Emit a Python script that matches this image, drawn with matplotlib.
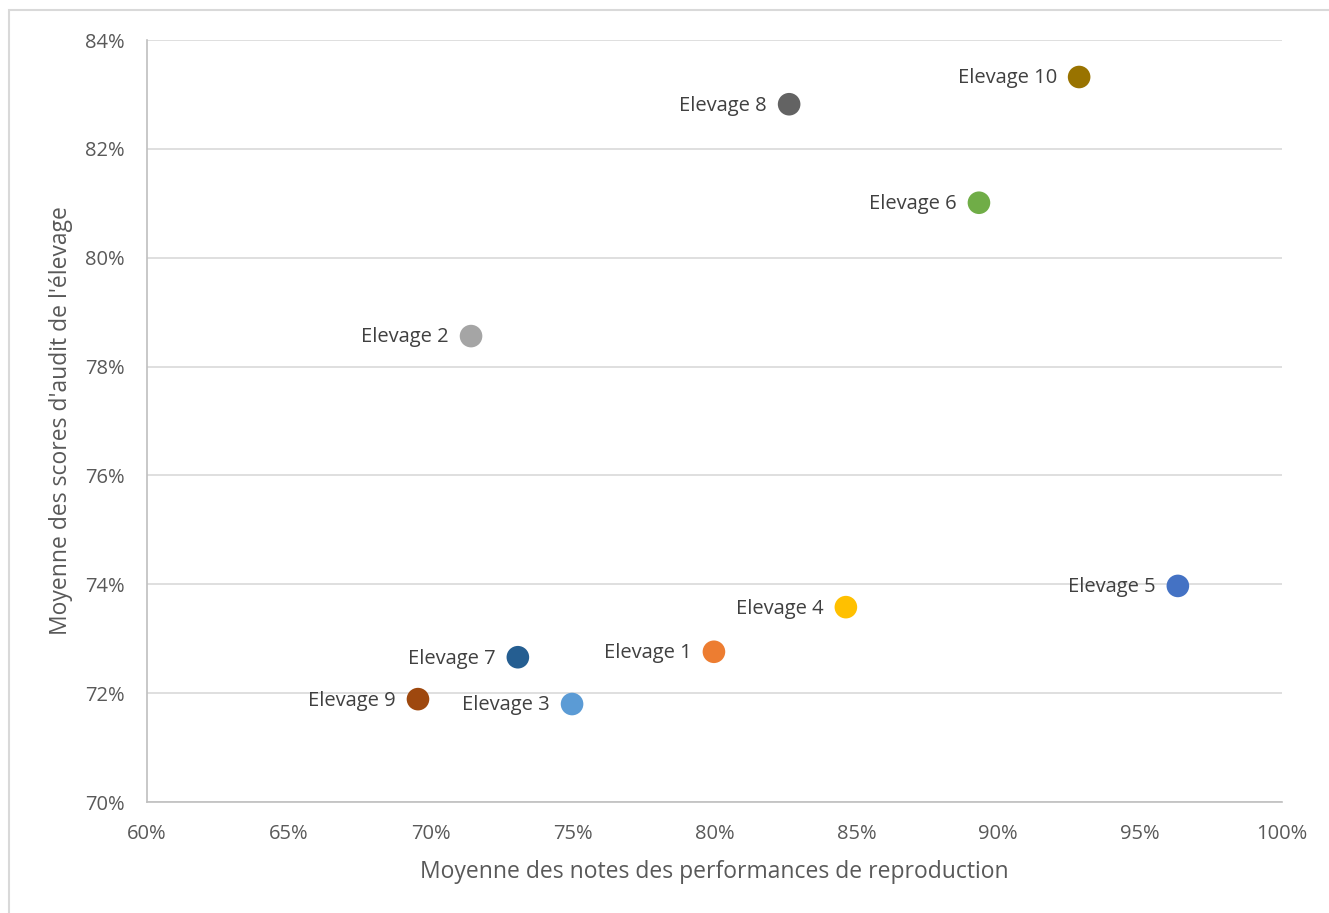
import matplotlib.pyplot as plt
from matplotlib.patches import Rectangle
from matplotlib.ticker import FuncFormatter, MultipleLocator

names = ['Elevage 1', 'Elevage 2', 'Elevage 3', 'Elevage 4', 'Elevage 5',
         'Elevage 6', 'Elevage 7', 'Elevage 8', 'Elevage 9', 'Elevage 10']
repro = [79.98, 71.42, 74.98, 84.63, 96.33, 89.32, 73.07, 82.63, 69.55, 92.85]
audit = [72.76, 78.56, 71.80, 73.58, 73.97, 81.01, 72.66, 82.82, 71.89, 83.32]
colors = ['#ED7D31', '#A5A5A5', '#5B9BD5', '#FFC000', '#4472C4',
          '#70AD47', '#255E91', '#636363', '#9E480E', '#997300']

plt.rcParams['font.family'] = ['Open Sans', 'DejaVu Sans']
txt = '#595959'

fig = plt.figure(figsize=(13.29, 9.13), dpi=100)
fig.patches.append(Rectangle((9 / 1329, -0.01), 1.0, 1 - 10 / 913 + 0.01,
                             transform=fig.transFigure, fill=False,
                             edgecolor='#D9D9D9', linewidth=1.5))
ax = fig.add_axes([147 / 1329, 1 - 802 / 913, (1282 - 147) / 1329, (802 - 40) / 913])

ax.scatter(repro, audit, s=265, c=colors, zorder=3, linewidths=0)
for n, x, y in zip(names, repro, audit):
    ax.annotate(n, (x, y), xytext=(-16, -1), textcoords='offset points',
                ha='right', va='center', fontsize=14.5, color='#404040')

ax.set_xlim(60, 100)
ax.set_ylim(70, 84)
ax.xaxis.set_major_locator(MultipleLocator(5))
ax.yaxis.set_major_locator(MultipleLocator(2))
pct = FuncFormatter(lambda v, p: f'{v:.0f}%')
ax.xaxis.set_major_formatter(pct)
ax.yaxis.set_major_formatter(pct)
ax.grid(axis='y', color='#D9D9D9', linewidth=1.2)
ax.set_axisbelow(True)
for s in ['top', 'right']:
    ax.spines[s].set_visible(False)
for s in ['left', 'bottom']:
    ax.spines[s].set_color('#BFBFBF')
    ax.spines[s].set_linewidth(1.2)
ax.tick_params(length=0, labelsize=14.5, colors=txt)
ax.tick_params(axis='x', pad=15.5)
ax.tick_params(axis='y', pad=16)
ax.set_xlabel('Moyenne des notes des performances de reproduction',
              fontsize=16.5, color=txt, labelpad=12)
ax.set_ylabel("Moyenne des scores d'audit de l'élevage",
              fontsize=16.5, color=txt, labelpad=9)

fig.savefig('out.png', dpi=100)
